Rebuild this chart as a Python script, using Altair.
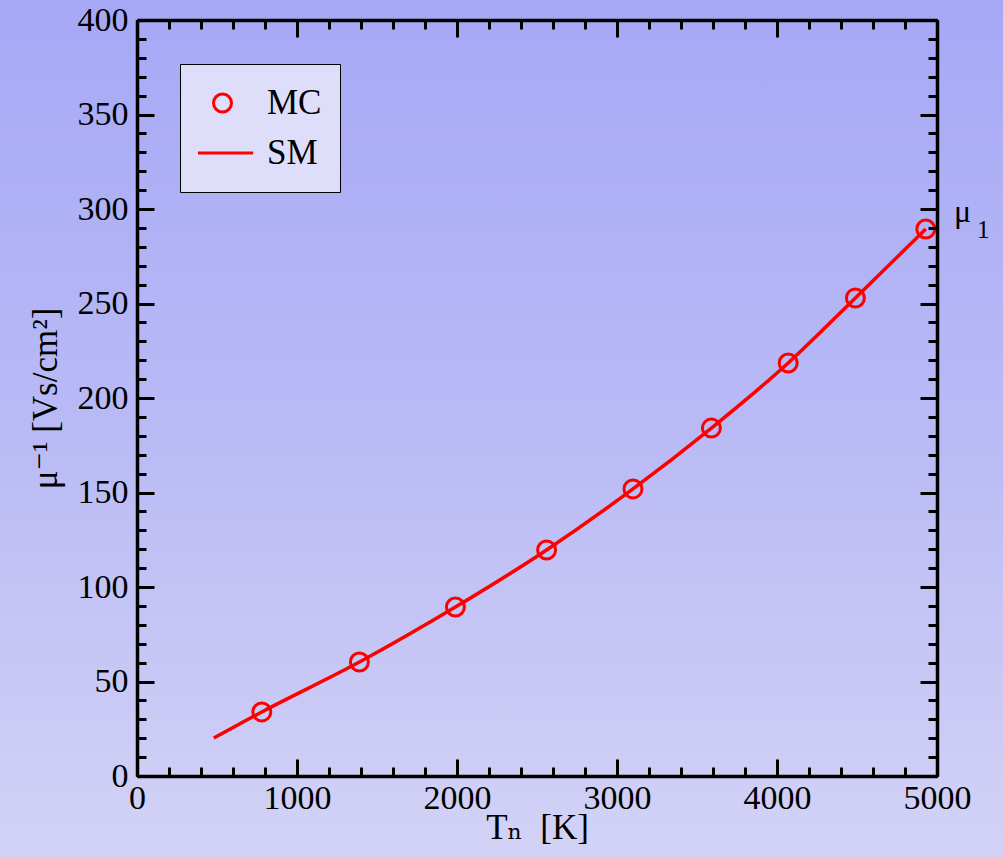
import altair as alt
import pandas as pd

# ---- data ----
mc_T = [780, 1390, 1990, 2560, 3100, 3590, 4070, 4490, 4930]
mc_mu = [33.9, 60.3, 89.4, 119.6, 151.9, 184.1, 218.5, 252.9, 289.4]
sm_T = [480, 780, 1390, 1990, 2560, 3100, 3590, 4070, 4490, 4930]
sm_mu = [20.1, 33.9, 60.3, 89.4, 119.6, 151.9, 184.1, 218.5, 252.9, 289.4]
series_names = ["MC", "SM"]
x_major = [0, 1000, 2000, 3000, 4000, 5000]
x_minor = [v for v in range(0, 5001, 200)]
y_major = [0, 50, 100, 150, 200, 250, 300, 350, 400]
y_minor = [v for v in range(0, 401, 10)]
ann_T = [5000]
ann_mu = [293]

W, H = 800, 756
FONT = "Liberation Serif, DejaVu Serif, serif"

mc = pd.DataFrame({"T": mc_T, "mu": mc_mu, "series": ["MC"] * len(mc_T)})
sm = pd.DataFrame({"T": sm_T, "mu": sm_mu})
ann = pd.DataFrame({"T": ann_T, "mu": ann_mu})

xs = alt.Scale(domain=[0, 5000], nice=False, zero=False)
ys = alt.Scale(domain=[0, 400], nice=False, zero=False)


def tick_axis(orient, offset, values, size, domain=False):
    return alt.Axis(orient=orient, offset=offset, values=values, labels=False,
                    domain=domain, domainColor="black", domainWidth=3.5,
                    ticks=True, tickSize=size, tickWidth=3, tickColor="black",
                    title=None, grid=False, zindex=1)


bg = alt.Chart(pd.DataFrame({"a": [0]})).mark_rect(
    color=alt.LinearGradient(
        gradient="linear", x1=0, x2=0, y1=0, y2=1,
        stops=[alt.GradientStop(color="#a6a8f6", offset=0),
               alt.GradientStop(color="#b9baf5", offset=0.5),
               alt.GradientStop(color="#d3d2f6", offset=1)]),
    strokeWidth=0,
).encode(x=alt.value(-137), x2=alt.value(W + 66), y=alt.value(-20), y2=alt.value(H + 82))

x_label_axis = alt.Axis(
    orient="bottom", values=x_major, ticks=False, tickSize=0, domain=True,
    domainColor="black", domainWidth=3.5, labelFont=FONT, labelFontSize=34,
    labelColor="black", labelPadding=32, labelBaseline="alphabetic",
    labelFlush=False, labelOverlap=False, format="d", grid=False, zindex=1,
    title="Tₙ\u00a0\u00a0[K]", titleFont=FONT, titleFontSize=35, titleFontWeight="normal",
    titleColor="black", titleBaseline="alphabetic", titleY=62)
y_label_axis = alt.Axis(
    orient="left", values=y_major, ticks=False, tickSize=0, domain=True,
    domainColor="black", domainWidth=3.5, labelFont=FONT, labelFontSize=34,
    labelColor="black", labelPadding=9, labelFlush=False, labelOverlap=False,
    format="d", grid=False, zindex=1,
    title="μ⁻¹ [Vs/cm²]", titleFont=FONT, titleFontSize=35,
    titleFontWeight="normal", titleColor="black", titleX=-74, titleY=H / 2)

line = alt.Chart(sm).mark_line(color="red", strokeWidth=3.5, interpolate="monotone").encode(
    x=alt.X("T:Q", scale=xs, axis=x_label_axis),
    y=alt.Y("mu:Q", scale=ys, axis=y_label_axis),
)

legend = alt.Legend(
    title=None, orient="none", legendX=43, legendY=44, fillColor="#dedefa",
    strokeColor="black", padding=18, clipHeight=42, symbolSize=324, symbolStrokeWidth=3,
    symbolOffset=7, labelOffset=27, labelFont=FONT, labelFontSize=35,
    labelColor="black", rowPadding=8, symbolFillColor="transparent")

points = alt.Chart(mc).mark_point(shape="circle", filled=False, size=324, strokeWidth=3, opacity=1).encode(
    x=alt.X("T:Q", scale=xs, axis=tick_axis("top", -H, x_major, 17)),
    y=alt.Y("mu:Q", scale=ys, axis=tick_axis("right", -W, y_major, 17)),
    color=alt.Color("series:N", scale=alt.Scale(domain=series_names, range=["red", "red"]), legend=legend),
    shape=alt.Shape("series:N", scale=alt.Scale(domain=series_names, range=["circle", "M-3.4,0H3.4"]), legend=legend),
)

minor_in = alt.Chart(mc).mark_point(opacity=0).encode(
    x=alt.X("T:Q", scale=xs, axis=tick_axis("top", -H, x_minor, 9)),
    y=alt.Y("mu:Q", scale=ys, axis=tick_axis("right", -W, y_minor, 9)),
)
major_far = alt.Chart(mc).mark_point(opacity=0).encode(
    x=alt.X("T:Q", scale=xs, axis=tick_axis("bottom", -H, x_major, 17, domain=True)),
    y=alt.Y("mu:Q", scale=ys, axis=tick_axis("left", -W, y_major, 17, domain=True)),
)
minor_far = alt.Chart(mc).mark_point(opacity=0).encode(
    x=alt.X("T:Q", scale=xs, axis=tick_axis("bottom", -H, x_minor, 9)),
    y=alt.Y("mu:Q", scale=ys, axis=tick_axis("left", -W, y_minor, 9)),
)

mu_text = alt.Chart(ann).mark_text(text="μ", font=FONT, fontSize=32, align="left",
                                    baseline="alphabetic", dx=17, color="black").encode(
    x=alt.X("T:Q", scale=xs, axis=None), y=alt.Y("mu:Q", scale=ys, axis=None))
sub_text = alt.Chart(ann).mark_text(text="1", font=FONT, fontSize=25, align="left",
                                     baseline="alphabetic", dx=40, dy=16, color="black").encode(
    x=alt.X("T:Q", scale=xs, axis=None), y=alt.Y("mu:Q", scale=ys, axis=None))

chart = alt.layer(bg, line, points, minor_in, major_far, minor_far, mu_text, sub_text).resolve_axis(
    x="independent", y="independent"
).properties(
    width=W, height=H, autosize=alt.AutoSizeParams(type="none"),
    padding={"left": 137, "top": 20, "right": 66, "bottom": 82},
    background="#b9baf5",
).configure_view(stroke=None).configure_legend(strokeWidth=1)

chart.save("out.html", embed_options={"renderer": "svg", "actions": False})
